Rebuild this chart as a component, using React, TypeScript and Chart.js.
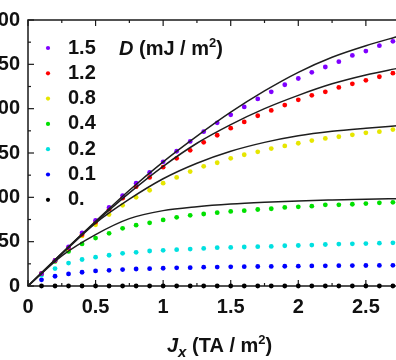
import { useEffect, useRef } from 'react';
import { Chart, registerables } from 'chart.js';

Chart.register(...registerables);

// x positions of the simulated points (J_x, TA/m²)
const xValues = [0.1, 0.2, 0.3, 0.4, 0.5, 0.6, 0.7, 0.8, 0.9, 1.0, 1.1, 1.2, 1.3, 1.4, 1.5, 1.6, 1.7, 1.8, 1.9, 2.0, 2.1, 2.2, 2.3, 2.4, 2.5, 2.6, 2.7];

const seriesLabels = ['1.5', '1.2', '0.8', '0.4', '0.2', '0.1', '0.'];
const seriesColors = ['#7f00ff', '#ff0000', '#e6e600', '#00e000', '#00e0e0', '#0000ff', '#000000'];

const d15 = [14, 29, 44, 60, 74, 88.6, 102, 116, 128, 140, 152, 163, 174, 184, 193, 202, 211, 219, 227, 234, 241, 247, 253, 260, 265, 271, 276];
const d12 = [14, 28.5, 43, 58, 72, 86.7, 99, 112, 122.5, 134, 144, 153, 162, 170, 178, 185, 192, 198, 204, 210, 215, 219, 224, 228, 232, 236, 240];
const d08 = [14, 28.8, 41.7, 56.5, 69, 80.5, 91, 100, 108, 116, 122.5, 129, 135, 139, 144, 148, 151.3, 155, 158, 161, 164, 166.4, 168.3, 170.5, 172.7, 174.1, 176.4];
const d04 = [14, 27.7, 39, 47.5, 54, 59.4, 65, 68.6, 71.2, 74.5, 77.5, 79.7, 81.2, 82.7, 84.1, 84.9, 86.3, 87.1, 88.6, 89.3, 90, 91.5, 91.5, 92.2, 93, 93.8, 94.4];
const d02 = [12, 19.6, 25.8, 29.9, 32.5, 34.7, 36.9, 38, 39.5, 40.2, 41, 41.7, 42.4, 43.2, 43.5, 44, 44.3, 44.6, 45.4, 45.7, 46.1, 46.8, 47.3, 47.6, 47.9, 48.3, 48.7];
const d01 = [7, 11, 13.6, 15.5, 17, 17.7, 18.5, 19.2, 19.5, 20, 20.5, 20.7, 21.2, 21.4, 21.6, 21.8, 22, 22.1, 22.3, 22.4, 22.6, 22.7, 22.9, 23, 23.1, 23.2, 23.3];
const d00 = [0, 0, 0, 0, 0, 0, 0, 0, 0, 0, 0, 0, 0, 0, 0, 0, 0, 0, 0, 0, 0, 0, 0, 0, 0, 0, 0];
const seriesValues = [d15, d12, d08, d04, d02, d01, d00];

// analytic curves (black lines)
const curveX = [0, 0.25, 0.5, 0.75, 1.0, 1.25, 1.5, 1.75, 2.0, 2.25, 2.5, 2.75];
const curve15 = [0, 37, 73, 108, 140, 169, 196, 220, 241, 258, 271, 282];
const curve12 = [0, 37, 72, 105, 135, 161, 182, 200, 215, 228, 238, 246];
const curve08 = [0, 36, 71, 98, 121, 138.5, 152, 162, 169.5, 174.5, 178, 181];
const curve04 = [0, 34, 58, 76, 85, 89.5, 92.5, 94.5, 96, 97, 97.8, 98.5];
const curves = [curve15, curve12, curve08, curve04];

const xMin = 0;
const xMax = 3;
const xStep = 0.5;
const yMin = 0;
const yMax = 300;
const yStep = 50;

const FAMILY = "'Liberation Sans', Arial, sans-serif";
const INK = '#111111';

type Seg = { t: string; italic?: boolean; size?: number; dy?: number };

function drawRich(ctx: CanvasRenderingContext2D, segs: Seg[], x: number, y: number) {
  let cx = x;
  ctx.textBaseline = 'alphabetic';
  ctx.textAlign = 'left';
  for (const s of segs) {
    ctx.font = `${s.italic ? 'italic ' : ''}bold ${s.size ?? 20}px ${FAMILY}`;
    ctx.fillText(s.t, cx, y + (s.dy ?? 0));
    cx += ctx.measureText(s.t).width;
  }
  return cx - x;
}

export default function App() {
  const ref = useRef<HTMLCanvasElement>(null);

  useEffect(() => {
    const canvas = ref.current!;
    const font = { family: FAMILY, size: 20, weight: 'bold' as const };

    const curveSets = curves.map((c) => ({
      label: '',
      data: curveX.map((x, i) => ({ x, y: c[i] })),
      showLine: true,
      borderColor: '#1e1e1e',
      borderWidth: 1.5,
      pointRadius: 0,
      cubicInterpolationMode: 'monotone' as const,
      fill: false,
      clip: false as const,
    }));

    const pointSets = seriesValues.map((vals, k) => ({
      label: seriesLabels[k],
      data: xValues.map((x, i) => ({ x, y: vals[i] })),
      showLine: false,
      pointRadius: 2.4,
      pointBackgroundColor: seriesColors[k],
      pointBorderWidth: 0,
      clip: false as const,
    }));

    const deco = {
      id: 'deco',
      beforeDatasetsDraw(chart: any) {
        const { ctx, chartArea } = chart;
        const { left, right, top, bottom } = chartArea;
        const xs = chart.scales.x;
        const ys = chart.scales.y;
        ctx.save();
        ctx.strokeStyle = '#1a1a1a';
        ctx.lineWidth = 1.5;
        ctx.strokeRect(left, top, right - left, bottom - top);
        ctx.lineWidth = 1.2;
        const line = (x1: number, y1: number, x2: number, y2: number) => {
          ctx.beginPath();
          ctx.moveTo(x1, y1);
          ctx.lineTo(x2, y2);
          ctx.stroke();
        };
        const xt = xs.ticks.map((t: any) => t.value);
        xt.forEach((v: number, i: number) => {
          const px = xs.getPixelForValue(v);
          line(px, bottom, px, bottom - 6);
          line(px, top, px, top + 6);
          if (i < xt.length - 1) {
            const pm = xs.getPixelForValue((v + xt[i + 1]) / 2);
            line(pm, bottom, pm, bottom - 3);
            line(pm, top, pm, top + 3);
          }
        });
        const yt = ys.ticks.map((t: any) => t.value);
        yt.forEach((v: number, i: number) => {
          const py = ys.getPixelForValue(v);
          line(left, py, left + 6, py);
          if (i < yt.length - 1) {
            const pm = ys.getPixelForValue((v + yt[i + 1]) / 2);
            line(left, pm, left + 3, pm);
          }
        });
        ctx.restore();
      },
      afterDraw(chart: any) {
        const { ctx, chartArea } = chart;
        const { left, top, bottom } = chartArea;
        ctx.save();
        ctx.fillStyle = INK;
        // legend
        const dotX = left + 20;
        const textX = left + 40;
        seriesLabels.forEach((lab, k) => {
          const ry = top + 28 + k * 25.3;
          ctx.beginPath();
          ctx.fillStyle = seriesColors[k];
          ctx.arc(dotX, ry, 2.1, 0, Math.PI * 2);
          ctx.fill();
          ctx.fillStyle = INK;
          ctx.font = `bold 20px ${FAMILY}`;
          ctx.textAlign = 'left';
          ctx.textBaseline = 'middle';
          ctx.fillText(lab, textX, ry);
        });
        // legend title
        drawRich(
          ctx,
          [
            { t: 'D', italic: true },
            { t: ' (mJ / m' },
            { t: '2', size: 13, dy: -8 },
            { t: ')' },
          ],
          left + 91,
          top + 35
        );
        // x axis title
        drawRich(
          ctx,
          [
            { t: 'J', italic: true },
            { t: 'x', italic: true, size: 15, dy: 5 },
            { t: ' (TA / m' },
            { t: '2', size: 13, dy: -8 },
            { t: ')' },
          ],
          left + 139,
          bottom + 66
        );
        ctx.restore();
      },
    };

    const chart = new Chart(canvas, {
      type: 'scatter',
      data: { datasets: [...curveSets, ...pointSets] as any },
      options: {
        animation: false,
        responsive: false,
        devicePixelRatio: 1,
        layout: { padding: { left: 0, top: 15, right: 12, bottom: 0 } },
        plugins: { legend: { display: false }, tooltip: { enabled: false } },
        scales: {
          x: {
            type: 'linear',
            min: xMin,
            max: xMax,
            grid: { display: false, drawTicks: false },
            border: { display: false },
            ticks: {
              stepSize: xStep,
              font,
              color: INK,
              padding: 9,
              maxRotation: 0,
              autoSkip: false,
              callback: (v: any) => String(Math.round(Number(v) * 100) / 100),
            },
            afterFit: (s: any) => {
              s.height = 74;
            },
          },
          y: {
            type: 'linear',
            min: yMin,
            max: yMax,
            grid: { display: false, drawTicks: false },
            border: { display: false },
            ticks: { stepSize: yStep, font, color: INK, padding: 8 },
            afterFit: (s: any) => {
              s.width = 60;
            },
          },
        },
      },
      plugins: [deco],
    });
    return () => chart.destroy();
  }, []);

  return (
    <div
      style={{
        position: 'fixed',
        left: 0,
        top: 0,
        width: 396,
        height: 360,
        overflow: 'hidden',
        background: '#ffffff',
      }}
    >
      <canvas
        ref={ref}
        width={480}
        height={360}
        style={{ position: 'absolute', left: -32, top: 0, width: 480, height: 360 }}
      />
    </div>
  );
}
